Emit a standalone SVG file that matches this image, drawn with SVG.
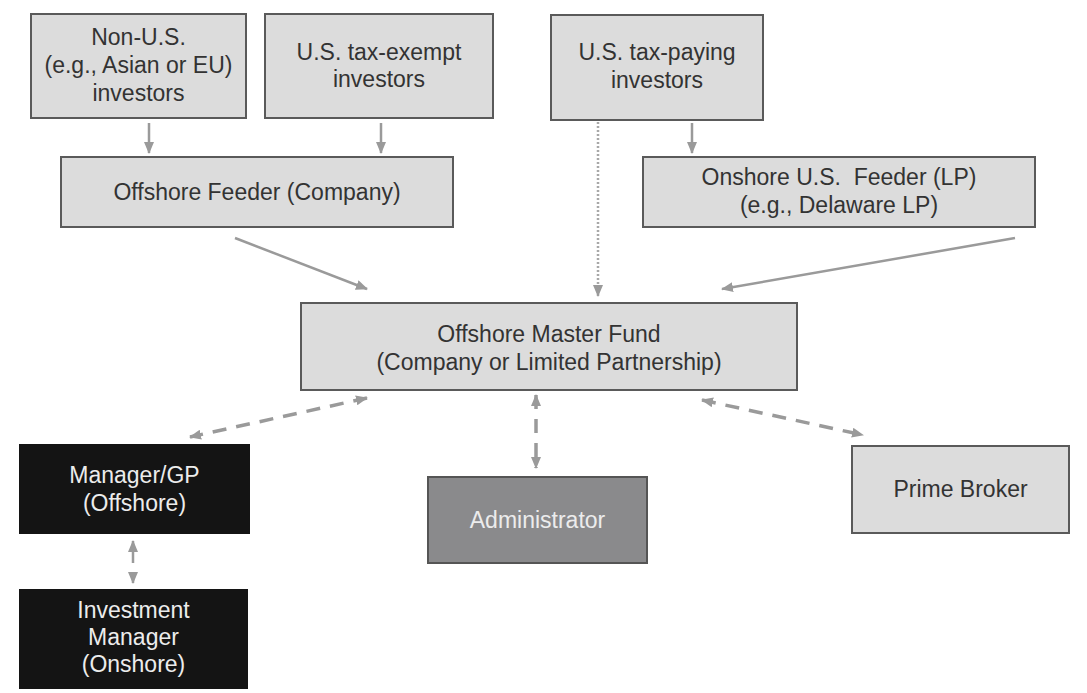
<svg xmlns="http://www.w3.org/2000/svg" width="1087" height="693" viewBox="0 0 1087 693">
<style>
.box{fill:#dcdcdc;stroke:#5a5a5a;stroke-width:2}
.dark{fill:#141414;stroke:#141414;stroke-width:2}
.admin{fill:#8a8a8c;stroke:#555;stroke-width:2}
text{font-family:"Liberation Sans",Arial,sans-serif;font-size:23px;text-anchor:middle;fill:#333}
.light{fill:#ececec}
.solid{stroke:#9a9a9a;stroke-width:2.5;fill:none}
.dash{stroke:#9a9a9a;stroke-width:3.5;fill:none;stroke-dasharray:14 10}
.dot{stroke:#a8a8a8;stroke-width:2.5;fill:none;stroke-dasharray:2 2}
</style>
<defs>
<marker id="ah" markerUnits="userSpaceOnUse" markerWidth="12" markerHeight="10" refX="11" refY="5" orient="auto-start-reverse">
<path d="M0,0 L12,5 L0,10 z" fill="#9a9a9a"/>
</marker>
</defs>
<rect width="1087" height="693" fill="#fff"/>
<g id="connectors">
<line class="solid" x1="149" y1="123" x2="149" y2="153" marker-end="url(#ah)"/>
<line class="solid" x1="381" y1="123" x2="381" y2="153" marker-end="url(#ah)"/>
<line class="solid" x1="692" y1="123" x2="692" y2="153" marker-end="url(#ah)"/>
<line class="dot" x1="598" y1="122" x2="598" y2="296" marker-end="url(#ah)"/>
<line class="solid" x1="235" y1="238" x2="367" y2="289" marker-end="url(#ah)"/>
<line class="solid" x1="1015" y1="238" x2="722" y2="289" marker-end="url(#ah)"/>
<line class="dash" x1="367" y1="398" x2="190" y2="437" marker-start="url(#ah)" marker-end="url(#ah)" stroke-dasharray="12 10"/>
<line class="dash" x1="536" y1="395" x2="536" y2="468" marker-start="url(#ah)" marker-end="url(#ah)" stroke-dasharray="12 10"/>
<line class="dash" x1="702" y1="400" x2="863" y2="435" marker-start="url(#ah)" marker-end="url(#ah)" stroke-dasharray="12 10"/>
<line class="solid" x1="133" y1="541" x2="133" y2="583" marker-start="url(#ah)" marker-end="url(#ah)" stroke-dasharray="22 10"/>
</g>
<g id="non-us">
<rect class="box" x="31" y="14" width="215" height="104"/>
<text x="138.5" y="45">Non-U.S.</text>
<text x="138.5" y="73">(e.g., Asian or EU)</text>
<text x="138.5" y="101">investors</text>
</g>
<g id="us-tax-exempt">
<rect class="box" x="265" y="14" width="228" height="104"/>
<text x="379" y="60">U.S. tax-exempt</text>
<text x="379" y="87">investors</text>
</g>
<g id="us-tax-paying">
<rect class="box" x="551" y="15" width="212" height="105"/>
<text x="657" y="60">U.S. tax-paying</text>
<text x="657" y="88">investors</text>
</g>
<g id="offshore-feeder">
<rect class="box" x="61" y="157" width="392" height="70"/>
<text x="257" y="200">Offshore Feeder (Company)</text>
</g>
<g id="onshore-feeder">
<rect class="box" x="643" y="157" width="392" height="70"/>
<text x="839" y="185" xml:space="preserve">Onshore U.S.  Feeder (LP)</text>
<text x="839" y="213">(e.g., Delaware LP)</text>
</g>
<g id="master-fund">
<rect class="box" x="301" y="303" width="496" height="87"/>
<text x="549" y="342">Offshore Master Fund</text>
<text x="549" y="370">(Company or Limited Partnership)</text>
</g>
<g id="manager-gp">
<rect class="dark" x="20" y="445" width="229" height="88"/>
<text class="light" x="134.5" y="483">Manager/GP</text>
<text class="light" x="134.5" y="511">(Offshore)</text>
</g>
<g id="investment-manager">
<rect class="dark" x="20" y="590" width="227" height="98"/>
<text class="light" x="133.5" y="618">Investment</text>
<text class="light" x="133.5" y="645">Manager</text>
<text class="light" x="133.5" y="672">(Onshore)</text>
</g>
<g id="administrator">
<rect class="admin" x="428" y="477" width="219" height="86"/>
<text class="light" x="537.5" y="528">Administrator</text>
</g>
<g id="prime-broker">
<rect class="box" x="852" y="446" width="217" height="87"/>
<text x="960.5" y="497">Prime Broker</text>
</g>
</svg>
